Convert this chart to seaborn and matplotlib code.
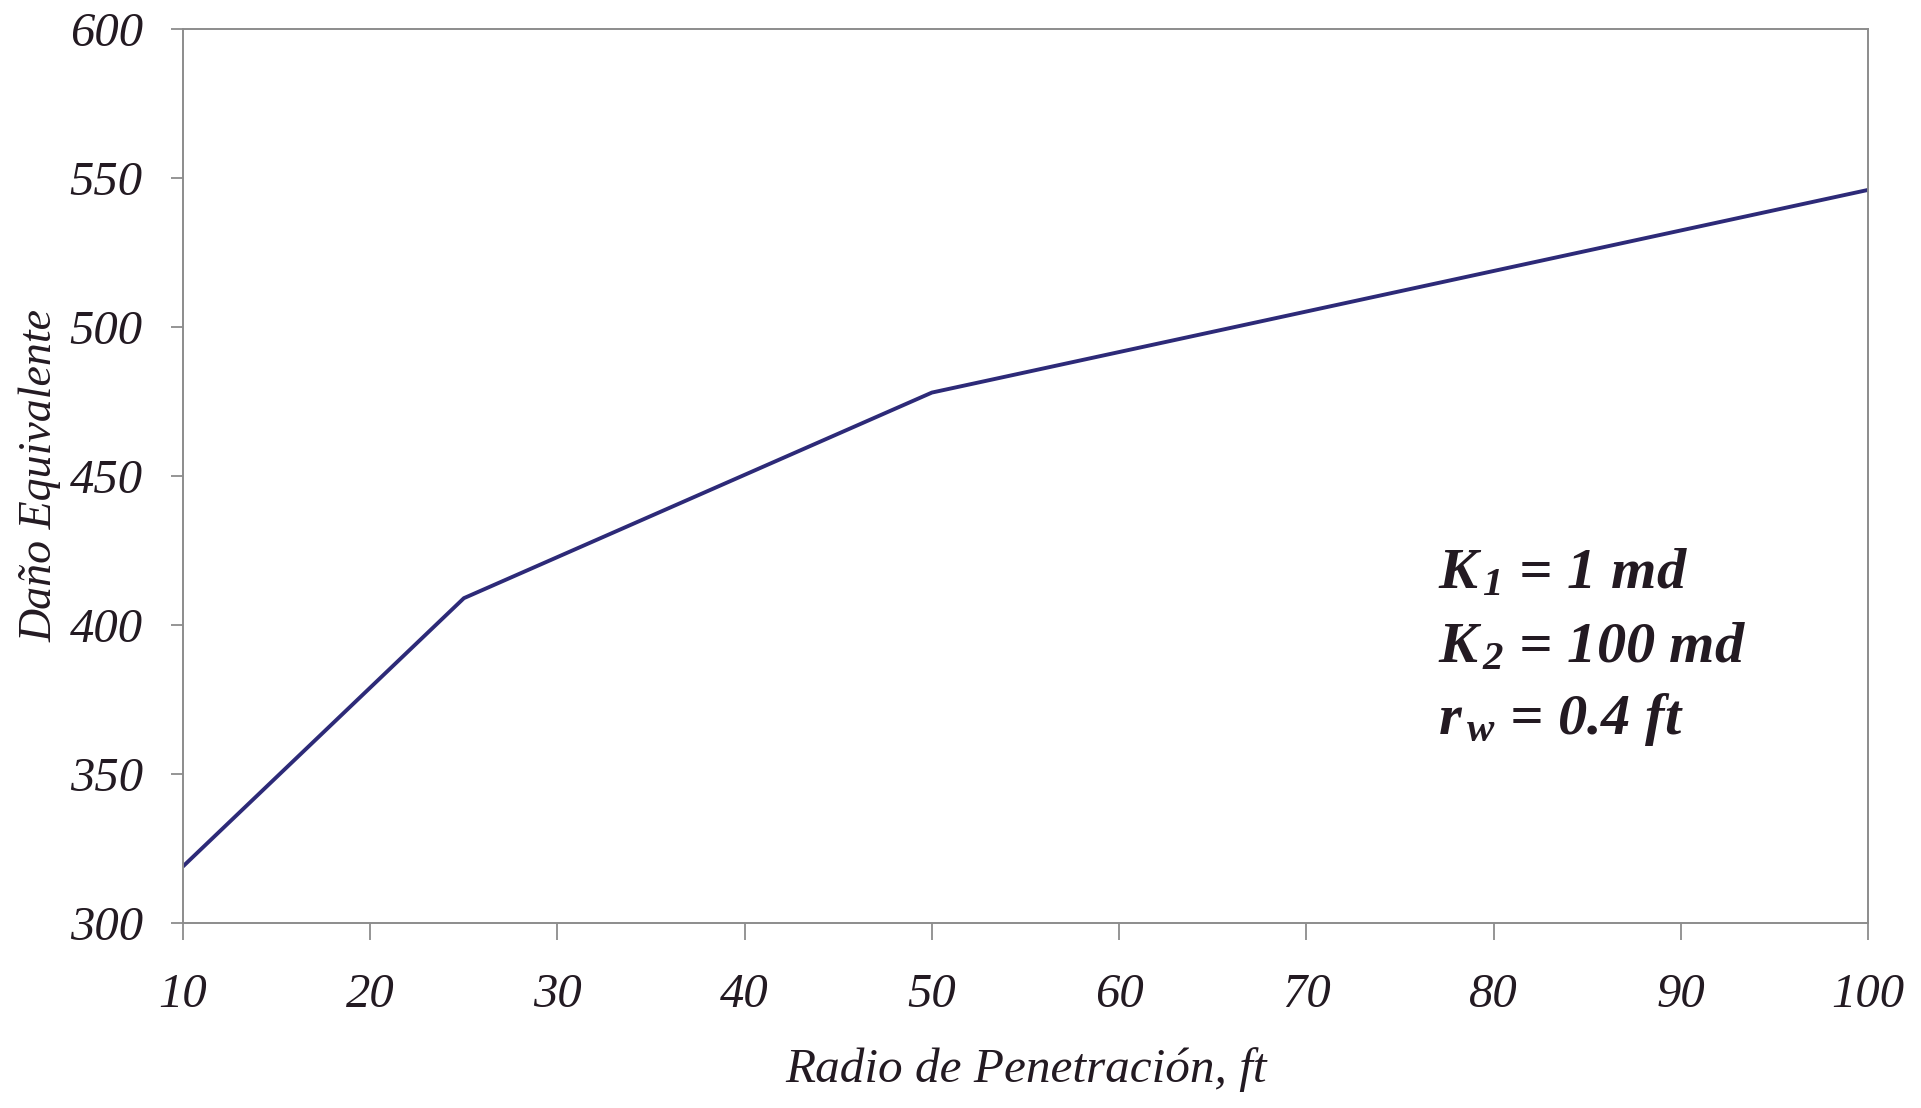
import matplotlib
matplotlib.use("Agg")
import matplotlib.pyplot as plt
import seaborn as sns
import pandas as pd

# data
radio_ft = [10, 25, 50, 100]
dano_equiv = [319, 409, 478, 546]
x_ticks = [10, 20, 30, 40, 50, 60, 70, 80, 90, 100]
y_ticks = [300, 350, 400, 450, 500, 550, 600]
notes = [r"$K_{\,1}$ = 1 md", r"$K_{\,2}$ = 100 md", r"$r_{\,w}$ = 0.4 ft"]
note_y = [412.5, 387.5, 363.5]

sns.set_style("white")
plt.rcParams['font.family'] = ['Liberation Serif', 'DejaVu Serif']
plt.rcParams['mathtext.fontset'] = 'custom'
plt.rcParams['mathtext.rm'] = 'Liberation Serif:italic:bold'
plt.rcParams['mathtext.it'] = 'Liberation Serif:italic:bold'
plt.rcParams['mathtext.bf'] = 'Liberation Serif:italic:bold'

txt_col = '#231a22'
spine_col = '#8c8c8c'

df = pd.DataFrame({'radio': radio_ft, 'dano': dano_equiv})

fig = plt.figure(figsize=(19.21, 11.08), dpi=100)
ax = fig.add_axes([0.0953, 0.167, 0.8771, 0.8068])
sns.lineplot(data=df, x='radio', y='dano', color='#2d2a78', linewidth=2.8, ax=ax)

ax.set_xlim(10, 100)
ax.set_ylim(300, 600)
ax.set_xticks(x_ticks)
ax.set_yticks(y_ticks)
ax.tick_params(axis='both', direction='out', length=9, width=1.3, color=spine_col,
               labelsize=35, labelcolor=txt_col, bottom=True, left=True)
ax.tick_params(axis='y', pad=20)
ax.tick_params(axis='x', pad=24, length=12)
for lab in ax.get_xticklabels() + ax.get_yticklabels():
    lab.set_fontstyle('italic')
for s in ax.spines.values():
    s.set_visible(True)
    s.set_color(spine_col)
    s.set_linewidth(1.4)

ax.set_xlabel('Radio de Penetración, ft', fontsize=35.5, fontstyle='italic', color=txt_col, labelpad=22)
ax.set_ylabel('Daño Equivalente', fontsize=33, fontstyle='italic', color=txt_col, labelpad=6)

for t, yv in zip(notes, note_y):
    ax.text(0.745, yv, t, transform=ax.get_yaxis_transform(), fontsize=42,
            fontweight='bold', fontstyle='italic', color=txt_col, va='baseline', ha='left')

fig.savefig('out.png', dpi=100)
